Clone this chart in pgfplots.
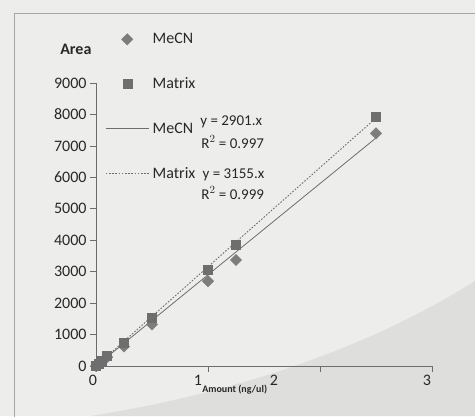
\documentclass[border=0pt]{standalone}
\usepackage{pgfplots}
\pgfplotsset{compat=1.18}
\usepackage{fontspec}
\setmainfont{Carlito}
\definecolor{bgc}{RGB}{237,237,235}
\definecolor{bgd}{RGB}{222,222,220}
\definecolor{mk1}{RGB}{125,125,125}
\definecolor{mk2}{RGB}{110,110,110}
\definecolor{lnc}{RGB}{110,110,110}
\definecolor{txt}{RGB}{40,40,40}
\pgfplotsset{
  markleg/.style={legend image code/.code={\draw[mark repeat=2,mark phase=2,##1] plot coordinates {(0pt,0pt)(21.5pt,0pt)(43pt,0pt)};}},
  lineleg/.style={legend image code/.code={\draw[##1] (0pt,0pt) -- (43pt,0pt);}},
}
\begin{document}
\begin{tikzpicture}[x=1pt,y=1pt]
\useasboundingbox (0,0) rectangle (475,416);
\fill[bgc] (0,0) rectangle (475,416);
\fill[bgd] (90,0) .. controls (250,25) and (380,75) .. (475,135) -- (475,0) -- cycle;
\draw[gray!70, line width=0.8pt] (14,-5) -- (14,403) -- (480,403);
\begin{axis}[
  at={(96pt,50pt)}, anchor=south west,
  scale only axis, width=336pt, height=283pt,
  xmin=0, xmax=3, ymin=0, ymax=9000,
  axis lines=left,
  axis line style={-, draw=gray!85!black},
  tick style={draw=gray!85!black, line width=0.6pt},
  tick align=outside, major tick length=6pt,
  xtick={0,1,2,3},
  xticklabels={\makebox[0pt][r]{0\hspace{-1pt}},\makebox[0pt][r]{1\hspace{6pt}},\raisebox{3pt}{\makebox[0pt][r]{2\hspace{42pt}}},\makebox[0pt][r]{3\hspace{1pt}}},
  ytick={0,1000,...,9000},
  scaled y ticks=false,
  /pgf/number format/1000 sep={},
  /pgf/number format/assume math mode=true,
  ticklabel style={font=\fontsize{16}{18}\selectfont, text=txt},
  xlabel={Amount (ng/ul)},
  xlabel style={at={(axis description cs:0.413,-0.082)}, anchor=center, font=\fontsize{10}{12}\selectfont\bfseries, text=txt},
  ylabel={Area},
  ylabel style={rotate=-90, at={(axis description cs:-0.06,1.12)}, anchor=center, font=\fontsize{16}{18}\selectfont\bfseries, text=txt},
  legend style={at={(axis description cs:0.027,1.183)}, anchor=north west, draw=none, fill=none,
    font=\fontsize{16}{18}\selectfont, text=txt, row sep=28.5pt, inner sep=0pt,
    nodes={inner sep=2pt}, /tikz/every odd column/.append style={column sep=1.5pt}},
  legend cell align=left,
  clip=false,
]
\addplot[only marks, mark=square*, mark options={rotate=45}, mark size=4pt, color=mk1, markleg]
  coordinates {(0,0)(0.025,70)(0.05,140)(0.1,280)(0.25,620)(0.5,1320)(1,2700)(1.25,3370)(2.5,7400)};
\addlegendentry{MeCN}
\addplot[only marks, mark=square*, mark size=4.5pt, color=mk2, markleg]
  coordinates {(0,0)(0.025,80)(0.05,160)(0.1,320)(0.25,740)(0.5,1540)(1,3060)(1.25,3850)(2.5,7920)};
\addlegendentry{Matrix}
\addplot[no marks, color=lnc, line width=0.8pt, lineleg]
  coordinates {(0,0)(2.5,7252.5)};
\addlegendentry{MeCN}
\addplot[no marks, color=lnc, line width=0.9pt, dash pattern=on 1.6pt off 1.6pt, lineleg]
  coordinates {(0,0)(2.5,7887.5)};
\addlegendentry{Matrix}
\node[anchor=west, text=txt, font=\fontsize{15}{17}\selectfont] at (axis cs:0.9,7760) {y = 2901.x};
\node[anchor=west, text=txt, font=\fontsize{15}{17}\selectfont] at (axis cs:0.91,7125) {R$^{2}$ = 0.997};
\node[anchor=west, text=txt, font=\fontsize{15}{17}\selectfont] at (axis cs:0.92,6075) {y = 3155.x};
\node[anchor=west, text=txt, font=\fontsize{15}{17}\selectfont] at (axis cs:0.91,5500) {R$^{2}$ = 0.999};
\end{axis}
\end{tikzpicture}
\end{document}
